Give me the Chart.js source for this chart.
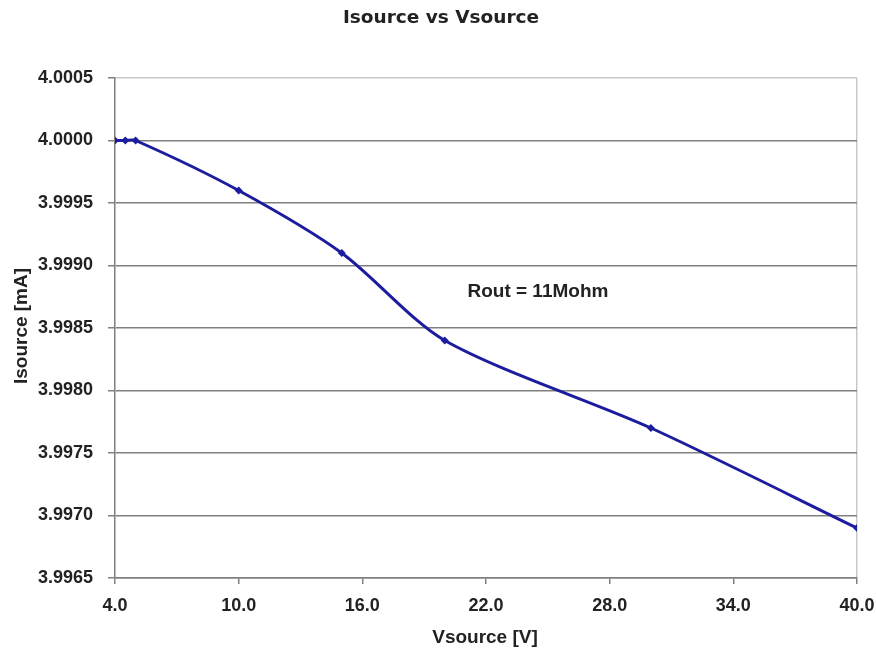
<!DOCTYPE html>
<html>
<head>
<meta charset="utf-8">
<title>Isource vs Vsource</title>
<script src="https://cdn.jsdelivr.net/npm/chart.js@4.4.1/dist/chart.umd.min.js"></script>
<style>
  html, body { margin: 0; padding: 0; background: #fff; }
  #wrap { width: 876px; height: 654px; position: relative; }
</style>
</head>
<body>
<div id="wrap"><canvas id="chart"></canvas></div>
<script>
// data
const vsource = [4, 4.5, 5, 10, 15, 20, 30, 40];
const isource = [4.0000, 4.0000, 4.0000, 3.9996, 3.9991, 3.9984, 3.9977, 3.9969];
const xTicks = [4, 10, 16, 22, 28, 34, 40];
const yTicks = [3.9965, 3.9970, 3.9975, 3.9980, 3.9985, 3.9990, 3.9995, 4.0000, 4.0005];

const sans = "'Liberation Sans', Arial, sans-serif";
const lineColor = '#1c1c9e';

// title, axis titles and the Rout note
const labelsPlugin = {
  id: 'labels',
  afterDraw(chart) {
    const ctx = chart.ctx;
    const x = chart.scales.x, y = chart.scales.y;
    ctx.save();
    ctx.fillStyle = '#222';
    ctx.textAlign = 'center';
    ctx.textBaseline = 'middle';

    ctx.font = "bold 18.5px 'DejaVu Sans', Verdana, sans-serif";
    ctx.fillText('Isource vs Vsource', 441, 18);

    ctx.font = 'bold 19px ' + sans;
    ctx.fillText('Vsource [V]', 485, 638);

    ctx.save();
    ctx.translate(22, 326);
    ctx.rotate(-Math.PI / 2);
    ctx.fillText('Isource [mA]', 0, 0);
    ctx.restore();

    ctx.textAlign = 'left';
    ctx.fillText('Rout = 11Mohm', x.getPixelForValue(21.1), y.getPixelForValue(3.99879));
    ctx.restore();
  }
};

new Chart(document.getElementById('chart'), {
  type: 'line',
  data: {
    datasets: [{
      label: 'Isource',
      data: vsource.map((v, i) => ({ x: v, y: isource[i] })),
      borderColor: lineColor,
      backgroundColor: lineColor,
      borderWidth: 3,
      tension: 0.28,
      pointStyle: 'rectRot',
      pointRadius: 4,
      pointBorderWidth: 0
    }]
  },
  options: {
    responsive: true,
    maintainAspectRatio: false,
    animation: false,
    layout: { padding: { top: 78, right: 19, left: 0, bottom: 0 } },
    scales: {
      x: {
        type: 'linear',
        min: 4,
        max: 40,
        afterFit(scale) {
          scale.height = 76;
          scale.paddingLeft = 0;
          scale.paddingRight = 0;
        },
        afterBuildTicks(scale) { scale.ticks = xTicks.map(v => ({ value: v })); },
        ticks: {
          callback: v => v.toFixed(1),
          color: '#222',
          font: { family: sans, size: 18, weight: 'bold' },
          padding: 11,
          maxRotation: 0
        },
        grid: {
          color: ctx => ctx.tick && ctx.tick.value === 40 ? '#c8c8c8' : 'transparent',
          tickColor: '#808080',
          tickLength: 6,
          lineWidth: 1.5
        },
        border: { color: '#808080', width: 1.5 }
      },
      y: {
        min: 3.9965,
        max: 4.0005,
        afterFit(scale) {
          scale.width = 115;
          scale.paddingTop = 0;
          scale.paddingBottom = 0;
        },
        afterBuildTicks(scale) { scale.ticks = yTicks.map(v => ({ value: v })); },
        ticks: {
          callback: v => v.toFixed(4),
          color: '#222',
          font: { family: sans, size: 18, weight: 'bold' },
          padding: 15
        },
        grid: {
          color: ctx => ctx.tick && ctx.tick.value === 4.0005 ? '#c8c8c8' : '#808080',
          tickColor: '#808080',
          tickLength: 7,
          lineWidth: 1.5
        },
        border: { color: '#808080', width: 1.5 }
      }
    },
    plugins: {
      legend: { display: false },
      tooltip: { enabled: false },
      title: { display: false }
    }
  },
  plugins: [labelsPlugin]
});
</script>
</body>
</html>
